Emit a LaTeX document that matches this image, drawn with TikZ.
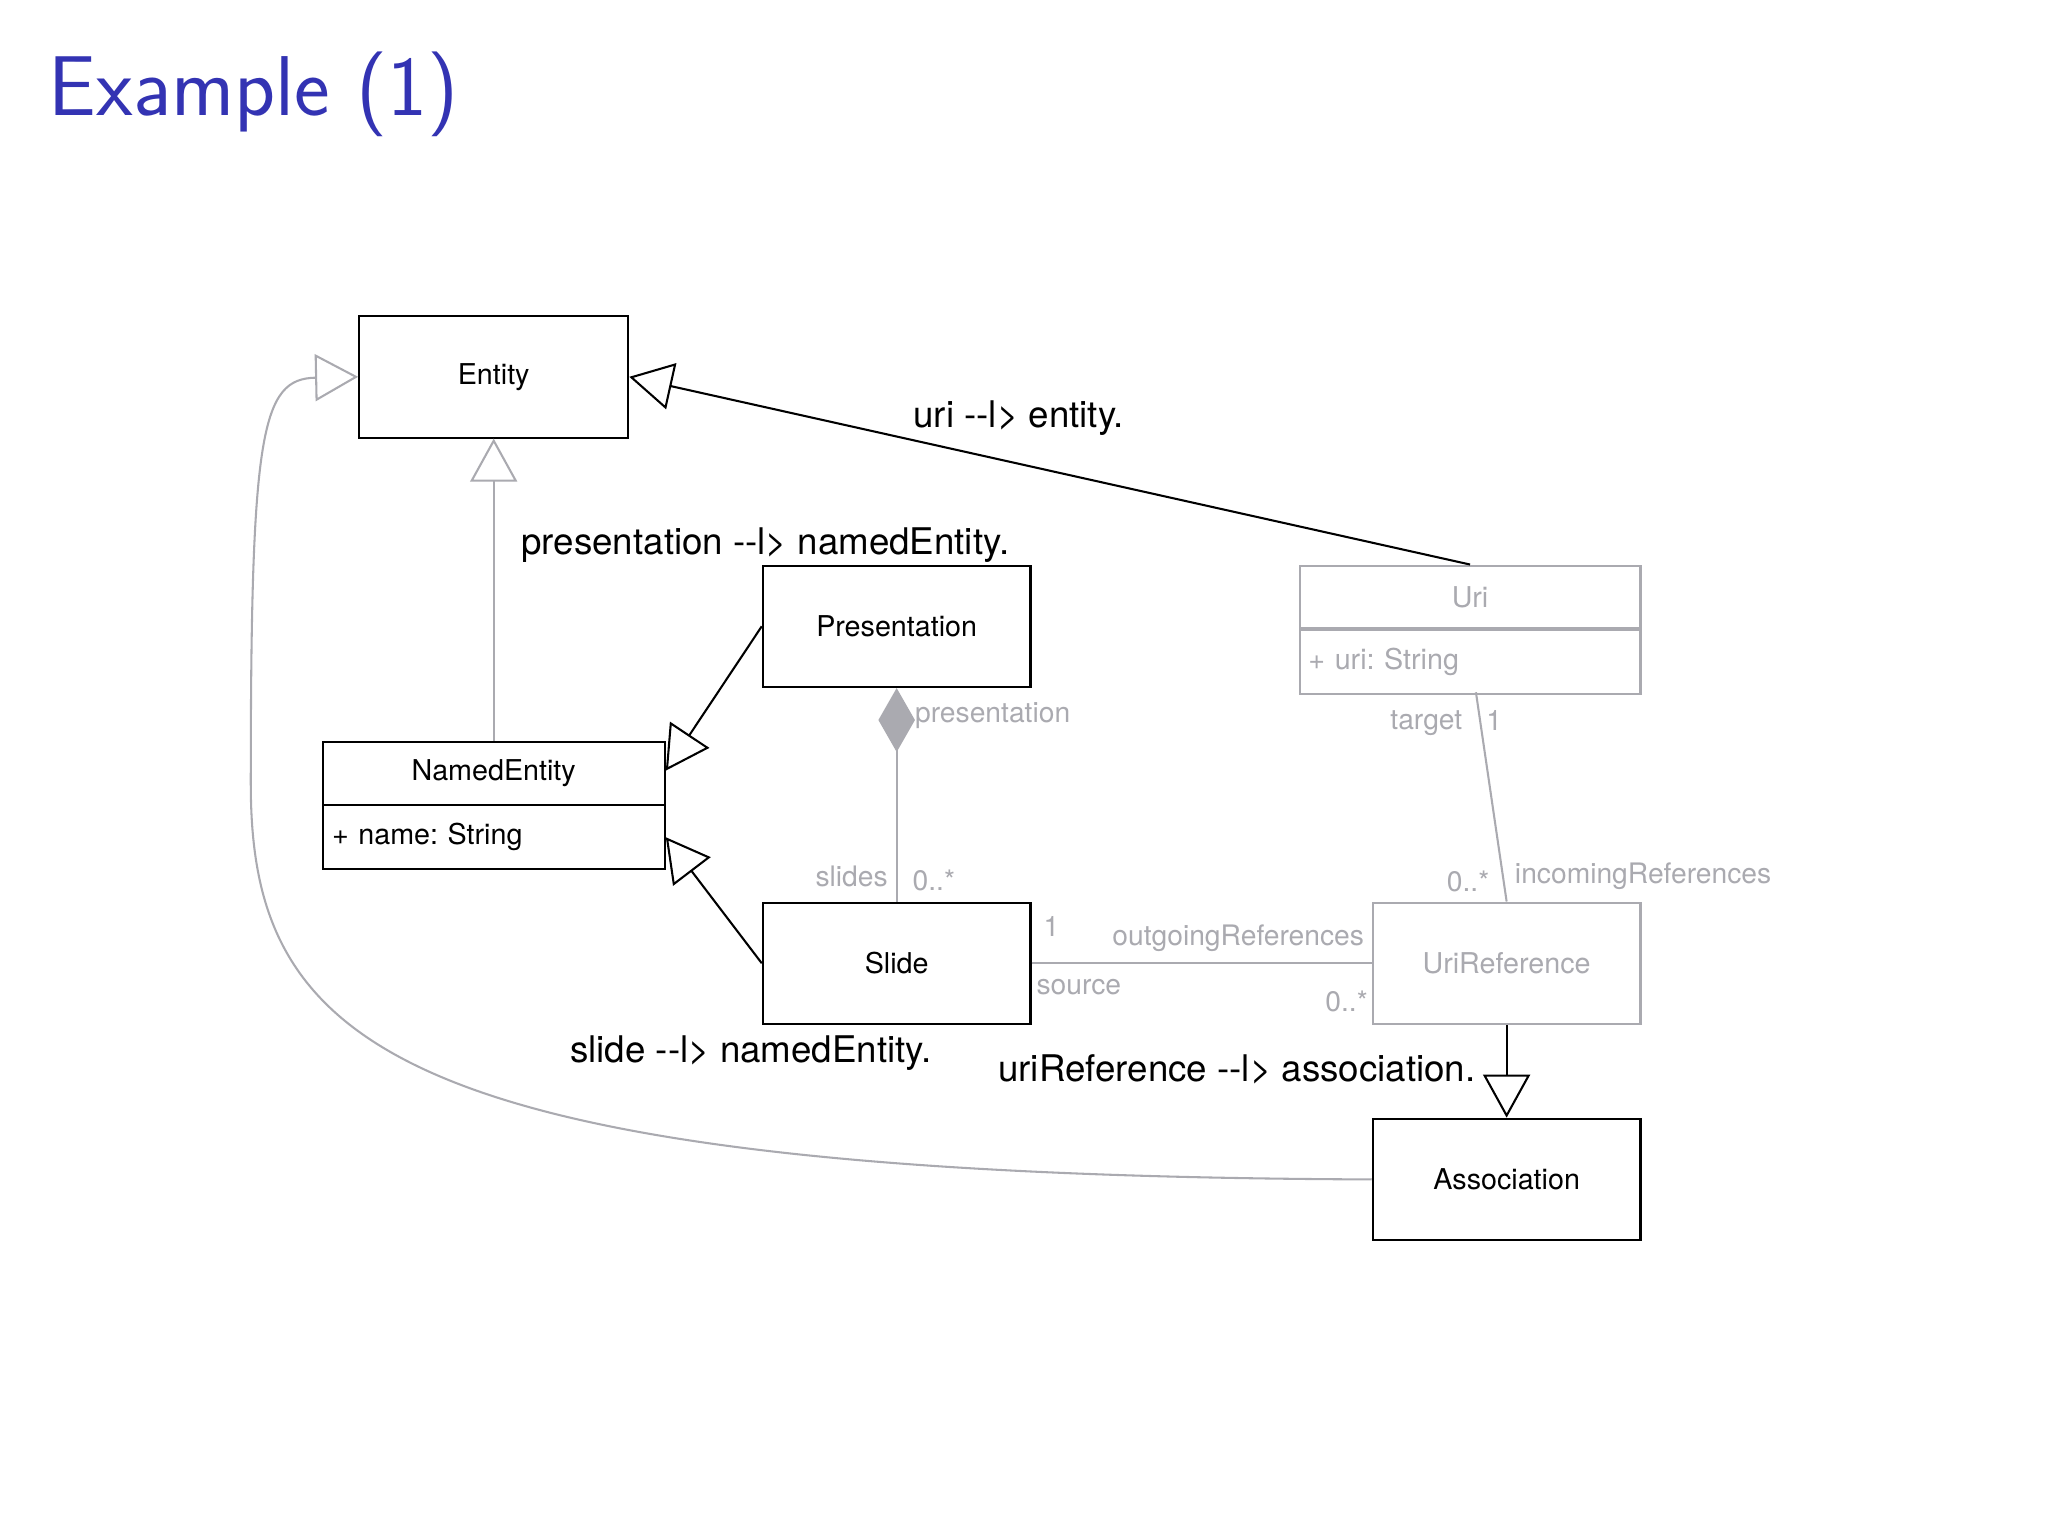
\documentclass[tikz,border=0pt]{standalone}
\usepackage{fontspec}
\setmainfont{TeX Gyre Heros}
\usetikzlibrary{arrows.meta}
\definecolor{ttl}{RGB}{51,51,179}
\definecolor{lg}{RGB}{170,170,176}
\frenchspacing
\tikzset{
 cls/.style={draw=black,line width=0.9pt,minimum width=4.1cm,minimum height=1.86cm,inner sep=0pt,font=\fontsize{12.5}{14}\selectfont},
 gcls/.style={cls,draw=lg,text=lg},
 tri/.style={-{Triangle[open,length=0.66cm,width=0.72cm]}},
 conn/.style={line width=0.9pt},
 glab/.style={text=lg,font=\fontsize{12.3}{14}\selectfont,inner sep=1pt},
 blab/.style={font=\fontsize{16}{18}\selectfont,inner sep=1pt}
}
\begin{document}
\begin{tikzpicture}[x=0.02cm,y=-0.02cm]
\useasboundingbox[fill=white] (0,0) rectangle (1568,1176);
\node[anchor=west,text=ttl,font=\sffamily\fontsize{37}{40}\selectfont,inner sep=0pt] (title) at (37,72) {Example (1)};
\node[cls,minimum width=4.12cm] (ent) at (378,288.5) {Entity};
\node[cls,minimum width=5.24cm,minimum height=0.96cm] (ne) at (378,592) {NamedEntity};
\node[cls,minimum width=5.24cm,minimum height=0.98cm,text width=4.95cm,align=left] (nea) at (378,640.5) {+ name: String};
\node[cls] (pres) at (686.5,479.5) {Presentation};
\node[cls] (slide) at (686.5,737.5) {Slide};
\node[gcls,minimum width=5.22cm,minimum height=0.96cm] (uri) at (1125.5,457) {Uri};
\node[gcls,minimum width=5.22cm,minimum height=0.98cm,text width=4.95cm,align=left] (uria) at (1125.5,507) {+ uri: String};
\node[gcls] (uref) at (1153.5,737.5) {UriReference};
\node[cls] (assoc) at (1153.5,903) {Association};
% generalisations
\draw[conn,tri] (uri.north) -- (ent.east);
\draw[conn,tri,draw=lg] (ne.north) -- (ent.south);
\draw[conn,tri] (pres.west) -- (ne.east |- 0,590);
\draw[conn,tri] (slide.west) -- (nea.east |- 0,641);
\draw[conn,tri] (uref.south) -- (assoc.north);
\draw[conn,tri,draw=lg] (assoc.west) .. controls (300,900) and (192,800) .. (192,600) .. controls (192,330) and (200,290) .. (ent.west);
% associations
\draw[conn,draw=lg,{Diamond[length=0.98cm,width=0.56cm,fill=lg]}-] (pres.south) -- (slide.north);
\draw[conn,draw=lg] (1130,530) -- (uref.north);
\draw[conn,draw=lg] (slide.east) -- (uref.west);
% labels
\node[blab] (l1) at (780,320) {uri -{}-l> entity.};
\node[blab] (l2) at (586,417) {presentation -{}-l> namedEntity.};
\node[blab] (l3) at (575,806) {slide -{}-l> namedEntity.};
\node[blab] (l4) at (947,819) {uriReference -{}-l> association.};
\node[glab] (g1) at (760,548) {presentation};
\node[glab] (g2) at (652,671) {slides};
\node[glab] (g3) at (715,674) {0..*};
\node[glab] (g4) at (1092,554) {target};
\node[glab] (g5) at (1144,552) {1};
\node[glab] (g6) at (1124,675) {0..*};
\node[glab] (g7) at (1258,671) {incomingReferences};
\node[glab] (g8) at (805,709) {1};
\node[glab] (g9) at (948,718) {outgoingReferences};
\node[glab] (g10) at (826,756) {source};
\node[glab] (g11) at (1031,767) {0..*};
\end{tikzpicture}
\end{document}
